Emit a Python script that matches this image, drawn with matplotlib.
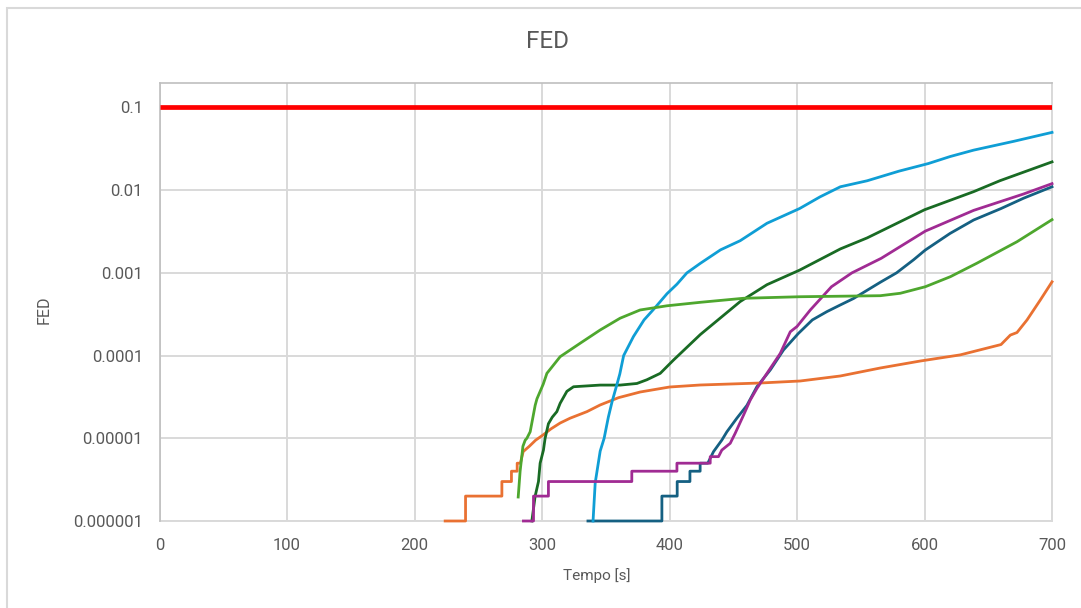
import numpy as np
import matplotlib.pyplot as plt
from matplotlib.patches import Rectangle
from matplotlib.ticker import FixedLocator, FuncFormatter

plt.rcParams['font.family'] = ['Roboto', 'DejaVu Sans']

# time [s] and FED values per curve
t_dblue = [336, 394, 394, 406, 406, 416, 416, 424, 424, 430, 434.5, 441, 445, 452.8,
           460.7, 468.5, 479, 489.4, 501, 512, 523.4, 534, 544.3, 565.3, 578, 591.4,
           600.6, 620, 638.5, 660, 677.7, 700]
fed_dblue = [1e-6, 1e-6, 2e-6, 2e-6, 3e-6, 3e-6, 4e-6, 4e-6, 5e-6, 5e-6, 6.9e-6, 9.5e-6,
             1.2e-5, 1.75e-5, 2.5e-5, 4.2e-5, 6.7e-5, 1.17e-4, 1.85e-4, 2.7e-4, 3.4e-4,
             4.1e-4, 4.9e-4, 7.7e-4, 1e-3, 1.44e-3, 1.89e-3, 3.0e-3, 4.36e-3, 6.0e-3,
             8.0e-3, 1.1e-2]

t_orange = [224, 240, 240, 268.5, 268.5, 276, 276, 280.5, 280.5, 283, 285.2, 290, 295,
            300.9, 307, 314.2, 322, 335.2, 345.6, 360, 377, 400, 424, 471, 502.5, 534,
            565.3, 596.7, 628, 660, 667.3, 672.5, 680.4, 690.8, 700]
fed_orange = [1e-6, 1e-6, 2e-6, 2e-6, 3e-6, 3e-6, 4e-6, 4e-6, 5e-6, 5e-6, 6.9e-6, 8e-6,
              9.5e-6, 1.1e-5, 1.3e-5, 1.53e-5, 1.75e-5, 2.1e-5, 2.53e-5, 3.1e-5,
              3.63e-5, 4.17e-5, 4.41e-5, 4.66e-5, 4.93e-5, 5.67e-5, 7.08e-5, 8.6e-5,
              1.02e-4, 1.36e-4, 1.77e-4, 1.9e-4, 2.7e-4, 4.7e-4, 7.8e-4]

t_dgreen = [292, 294.6, 297.2, 298.5, 301.1, 302.4, 305, 308, 311.6, 314.2, 319.5, 324.7,
            345.6, 361.3, 374.4, 382.2, 392.7, 403, 424.2, 455.4, 476.4, 502, 534, 555,
            600, 638.5, 659, 700]
fed_dgreen = [1e-6, 2e-6, 3e-6, 5e-6, 7.2e-6, 1.0e-5, 1.5e-5, 1.8e-5, 2.1e-5, 2.65e-5,
              3.7e-5, 4.2e-5, 4.4e-5, 4.4e-5, 4.6e-5, 5.1e-5, 6.1e-5, 8.8e-5, 1.8e-4,
              4.5e-4, 7.2e-4, 1.08e-3, 1.95e-3, 2.65e-3, 5.8e-3, 9.6e-3, 1.3e-2, 2.2e-2]

t_lblue = [340, 341.7, 345.6, 348.7, 352, 355, 358.6, 361, 364, 371.7, 380, 388, 398,
           405.8, 413.6, 424, 440, 455.4, 476.4, 502, 518, 534, 555, 580, 603, 620,
           638.5, 670, 700]
fed_lblue = [1e-6, 2.9e-6, 7e-6, 1e-5, 1.8e-5, 2.8e-5, 4.4e-5, 6e-5, 1e-4, 1.7e-4,
             2.7e-4, 3.7e-4, 5.6e-4, 7.3e-4, 1e-3, 1.3e-3, 1.9e-3, 2.45e-3, 3.98e-3,
             6.0e-3, 8.3e-3, 1.1e-2, 1.3e-2, 1.7e-2, 2.1e-2, 2.55e-2, 3.05e-2, 3.9e-2,
             5.0e-2]

t_purple = [285.4, 293.3, 293.3, 305, 305, 370.4, 370.4, 405.8, 405.8, 431.9, 431.9,
            438.4, 441, 447.6, 451.5, 458, 463.3, 468.5, 476.4, 486.8, 494.7, 500,
            510.4, 527, 543, 566, 600.6, 638.5, 677.7, 700]
fed_purple = [1e-6, 1e-6, 2e-6, 2e-6, 3e-6, 3e-6, 4e-6, 4e-6, 5e-6, 5e-6, 6e-6, 6e-6,
              7.2e-6, 8.7e-6, 1.15e-5, 1.9e-5, 2.9e-5, 4.0e-5, 6.1e-5, 1.06e-4, 1.94e-4,
              2.25e-4, 3.56e-4, 6.8e-4, 1e-3, 1.5e-3, 3.2e-3, 5.7e-3, 9.0e-3, 1.2e-2]

t_lgreen = [281.3, 282.8, 285, 286.8, 288.1, 290.7, 294.6, 296, 300.9, 303.8, 314.2,
            329.9, 345.6, 361.2, 376.9, 397.9, 424.2, 457.8, 502.5, 565.3, 581, 600.6,
            620.3, 641.1, 672.5, 700]
fed_lgreen = [1.95e-6, 4e-6, 8e-6, 9.5e-6, 1.0e-5, 1.2e-5, 2.5e-5, 3e-5, 4.5e-5, 6.1e-5,
              9.7e-5, 1.41e-4, 2.04e-4, 2.83e-4, 3.56e-4, 4.0e-4, 4.41e-4, 4.93e-4,
              5.15e-4, 5.3e-4, 5.67e-4, 6.8e-4, 9.0e-4, 1.31e-3, 2.38e-3, 4.4e-3]

# limit line
t_limit = [0, 700]
fed_limit = [0.1, 0.1]

x_ticks = [0, 100, 200, 300, 400, 500, 600, 700]
y_ticks = [1e-6, 1e-5, 1e-4, 1e-3, 1e-2, 1e-1]

fig = plt.figure(figsize=(10.81, 6.08), dpi=100)
ax = fig.add_axes([0.1476, 0.1431, 0.8256, 0.7204])

txt = '#595959'
grid_c = '#D9D9D9'

series = [
    (t_dblue, fed_dblue, '#156082'),
    (t_orange, fed_orange, '#E97132'),
    (t_dgreen, fed_dgreen, '#196B24'),
    (t_lblue, fed_lblue, '#0F9ED5'),
    (t_purple, fed_purple, '#A02B93'),
    (t_lgreen, fed_lgreen, '#4EA72E'),
]

ax.plot(t_limit, fed_limit, color='#FF0000', lw=3.4, solid_capstyle='butt',
        zorder=3)
for t, fed, col in series:
    ax.plot(t, fed, color=col, lw=2, clip_on=False, zorder=3)

ax.set_yscale('log')
ax.set_xlim(0, 700)
ax.set_ylim(1e-6, 10 ** (-1 + 24.5 / 82.7))
ax.xaxis.set_major_locator(FixedLocator(x_ticks))
ax.yaxis.set_major_locator(FixedLocator(y_ticks))
ax.yaxis.set_minor_locator(FixedLocator([]))
ax.yaxis.set_major_formatter(FuncFormatter(
    lambda v, p: np.format_float_positional(v, trim='-')))

ax.grid(True, color=grid_c, lw=1.4)
ax.set_axisbelow(True)
ax.tick_params(axis='both', length=0, labelsize=12, labelcolor=txt)
ax.tick_params(axis='x', pad=12)
ax.tick_params(axis='y', pad=12)
for side in ['bottom', 'right']:
    ax.spines[side].set_color(grid_c)
    ax.spines[side].set_linewidth(1.4)
    ax.spines[side].set_zorder(1)
for side in ['top', 'left']:
    ax.spines[side].set_color('#BFBFBF')
    ax.spines[side].set_linewidth(1.2)

fig.text(548 / 1081, 1 - 42 / 608, 'FED', ha='center', va='center',
         fontsize=17.5, color=txt)
fig.text(44 / 1081, 1 - 310 / 608, 'FED', ha='center', va='center',
         rotation=90, fontsize=11.5, color=txt)
fig.text(597 / 1081, 1 - 576 / 608, 'Tempo [s]', ha='center', va='center',
         fontsize=11, color=txt)

# outer chart border
fig.patches.append(Rectangle((7 / 1081, -0.1), 1.2, 1 - 8 / 608 + 0.1,
                             transform=fig.transFigure, fill=False,
                             edgecolor='#D9D9D9', lw=1.5))

fig.savefig('out.png', dpi=100)
